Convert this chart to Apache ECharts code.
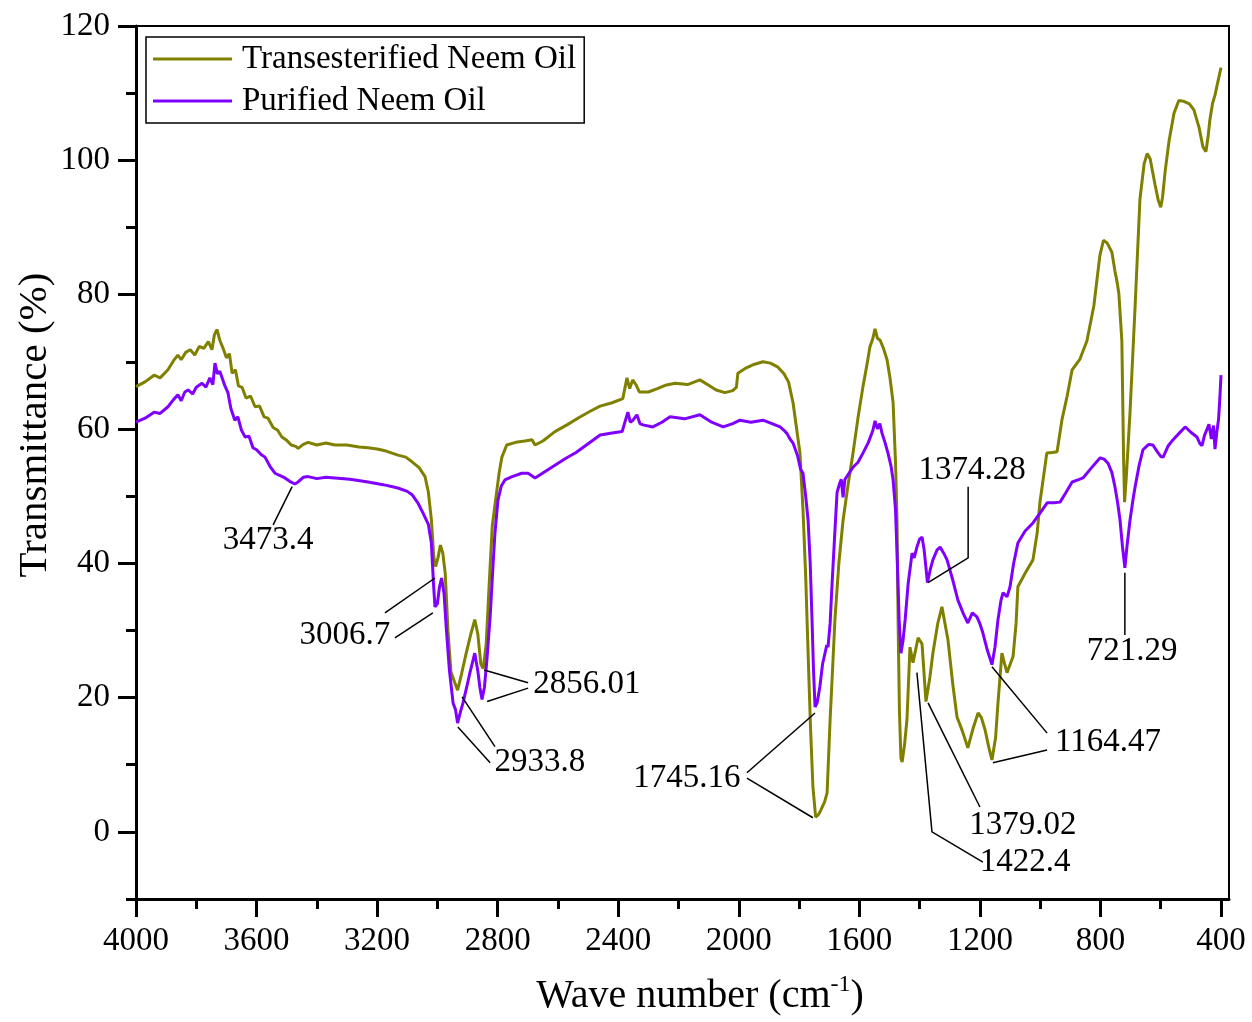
<!DOCTYPE html>
<html>
<head>
<meta charset="utf-8">
<script src="https://cdn.jsdelivr.net/npm/echarts@6/dist/echarts.min.js"></script>
<style>
  html, body { margin: 0; background: #fff; }
  #chart { width: 1252px; height: 1022px; }
</style>
</head>
<body>
<div id="chart"></div>
<script>
const FONT = '"Liberation Serif", "Times New Roman", serif';

const transName = 'Transesterified Neem Oil';
const purName = 'Purified Neem Oil';

// [wavenumber cm-1, transmittance %]
const transData = [
  [4000,66.3],[3970,67.0],[3940,68.0],[3920,67.6],[3894,68.8],[3875,70.2],[3861,71.0],[3850,70.3],[3835,71.4],[3820,71.8],
  [3805,71.0],[3790,72.3],[3775,72.0],[3760,73.0],[3748,71.8],[3740,74.0],[3731,74.8],[3722,73.2],[3711,72.0],[3700,70.6],
  [3690,71.2],[3681,68.3],[3670,68.8],[3660,66.4],[3648,66.2],[3635,64.6],[3620,64.9],[3605,63.3],[3590,63.4],[3575,61.8],
  [3562,61.6],[3545,60.2],[3530,59.8],[3516,58.8],[3500,58.3],[3485,57.6],[3470,57.4],[3462,57.1],[3445,57.7],[3429,58.0],
  [3400,57.6],[3370,57.9],[3340,57.6],[3300,57.6],[3260,57.3],[3230,57.2],[3200,57.0],[3170,56.7],[3131,56.1],[3105,55.8],
  [3084,55.1],[3060,54.2],[3041,52.9],[3030,50.6],[3020,46.5],[3012,41.0],[3006,39.5],[2998,40.8],[2990,42.7],[2982,41.5],
  [2974,38.5],[2965,30.0],[2955,23.8],[2943,22.3],[2933,21.1],[2920,23.5],[2905,26.5],[2890,29.3],[2876,31.6],[2866,29.5],
  [2856,25.0],[2848,24.3],[2838,28.0],[2828,37.0],[2818,45.5],[2808,49.0],[2795,53.5],[2786,55.8],[2770,57.6],[2740,58.0],
  [2710,58.2],[2686,58.4],[2676,57.6],[2650,58.2],[2610,59.6],[2570,60.6],[2530,61.7],[2490,62.7],[2460,63.4],[2420,63.9],
  [2385,64.5],[2371,67.6],[2362,66.0],[2352,67.3],[2340,66.5],[2330,65.5],[2300,65.5],[2270,66.0],[2244,66.5],[2211,66.8],
  [2170,66.6],[2129,67.3],[2100,66.5],[2075,65.8],[2046,65.4],[2020,65.7],[2008,66.2],[2003,68.3],[1975,69.1],[1950,69.6],
  [1920,70.0],[1895,69.8],[1870,69.2],[1850,68.2],[1835,67.0],[1820,63.9],[1808,60.0],[1797,56.4],[1787,48.0],[1778,38.0],
  [1770,26.6],[1762,15.5],[1754,6.7],[1745,2.2],[1735,2.6],[1727,3.3],[1715,4.5],[1707,5.8],[1697,16.7],[1688,25.0],
  [1681,31.6],[1668,40.0],[1654,46.4],[1638,51.5],[1621,56.4],[1605,61.5],[1588,66.3],[1575,69.5],[1565,72.2],[1555,73.5],
  [1548,74.9],[1540,73.5],[1531,73.2],[1520,72.0],[1508,70.3],[1498,67.5],[1488,63.9],[1480,55.0],[1475,46.4],[1471,30.0],
  [1467,18.0],[1462,11.0],[1458,10.4],[1450,13.0],[1442,16.7],[1432,27.5],[1422,25.2],[1405,28.9],[1392,28.0],[1379,19.4],
  [1366,23.0],[1356,26.6],[1340,31.0],[1326,33.5],[1306,28.6],[1290,22.0],[1276,17.1],[1258,15.0],[1240,12.5],[1222,15.5],
  [1206,17.7],[1195,17.0],[1183,15.2],[1170,12.5],[1160,10.7],[1148,14.0],[1140,19.2],[1127,26.6],[1118,25.0],[1110,23.7],
  [1090,26.1],[1080,31.0],[1074,36.5],[1050,38.5],[1024,40.5],[1010,44.5],[1001,49.0],[978,56.4],[960,56.5],[944,56.6],
  [928,61.3],[910,65.0],[894,68.8],[868,70.4],[845,73.1],[822,78.3],[802,85.8],[790,88.1],[778,87.7],[762,86.3],
  [752,83.5],[745,81.9],[739,80.2],[729,73.1],[723,55.0],[720,49.1],[714,53.0],[702,62.4],[685,78.3],[669,94.2],
  [655,99.5],[645,101.0],[635,100.2],[619,96.4],[608,94.0],[600,93.0],[594,94.5],[585,98.5],[572,103.0],[556,107.0],
  [540,108.9],[525,108.8],[505,108.4],[490,107.5],[473,104.9],[460,102.0],[450,101.3],[443,103.5],[437,106.0],[428,108.5],
  [420,109.7],[410,111.8],[400,113.8]
];

const purData = [
  [4000,61.0],[3970,61.6],[3940,62.5],[3920,62.3],[3894,63.3],[3875,64.4],[3861,65.1],[3850,64.2],[3838,65.5],[3827,65.8],
  [3812,65.2],[3800,66.2],[3781,66.8],[3768,66.2],[3755,67.6],[3745,66.6],[3738,69.8],[3730,68.2],[3722,68.6],[3715,67.7],
  [3705,66.4],[3695,65.4],[3685,63.0],[3672,61.3],[3662,61.8],[3650,59.8],[3638,58.8],[3625,58.9],[3612,57.2],[3600,56.9],
  [3585,56.2],[3572,55.8],[3555,54.4],[3539,53.4],[3520,53.0],[3506,52.7],[3490,52.2],[3473,51.8],[3462,52.1],[3445,52.8],
  [3429,52.9],[3400,52.6],[3370,52.8],[3340,52.7],[3290,52.5],[3230,52.1],[3180,51.7],[3131,51.2],[3100,50.7],[3084,50.2],
  [3065,49.0],[3048,47.5],[3030,45.8],[3020,43.0],[3013,37.0],[3008,33.5],[3000,34.0],[2993,36.5],[2986,37.8],[2978,35.5],
  [2970,30.0],[2960,24.0],[2948,19.2],[2940,18.2],[2933,16.2],[2924,17.8],[2915,19.2],[2903,21.5],[2892,23.7],[2876,26.6],
  [2866,24.0],[2859,21.5],[2852,19.7],[2844,21.5],[2835,26.0],[2825,32.0],[2815,40.0],[2809,44.5],[2799,49.4],[2788,51.5],
  [2776,52.4],[2752,52.9],[2720,53.4],[2699,53.4],[2676,52.7],[2645,53.6],[2610,54.6],[2575,55.6],[2540,56.5],[2500,57.8],
  [2460,59.1],[2420,59.4],[2387,59.6],[2368,62.5],[2360,61.0],[2351,61.3],[2338,62.1],[2328,60.8],[2318,60.6],[2285,60.3],
  [2255,61.0],[2228,61.8],[2180,61.5],[2129,62.1],[2090,61.0],[2052,60.3],[2020,60.8],[1996,61.3],[1960,61.0],[1920,61.3],
  [1890,60.8],[1863,60.3],[1850,59.8],[1840,59.3],[1830,58.5],[1820,57.9],[1805,56.0],[1795,54.0],[1787,53.4],[1778,50.0],
  [1770,46.4],[1763,40.0],[1757,31.6],[1752,24.0],[1747,18.6],[1740,19.2],[1731,21.6],[1722,25.0],[1714,26.6],[1708,27.8],
  [1704,27.5],[1697,31.0],[1691,36.5],[1682,44.0],[1674,50.5],[1666,51.8],[1660,52.5],[1654,49.8],[1648,52.5],[1640,53.0],
  [1621,54.3],[1605,55.0],[1588,56.4],[1570,58.0],[1555,59.8],[1548,61.2],[1540,60.0],[1532,60.8],[1525,59.4],[1515,58.0],
  [1505,56.4],[1495,54.5],[1488,52.4],[1480,48.0],[1475,41.5],[1468,31.6],[1462,26.6],[1455,28.5],[1448,31.6],[1438,37.0],
  [1425,41.5],[1418,40.8],[1409,42.4],[1400,43.6],[1392,43.9],[1385,42.0],[1374,37.1],[1365,39.0],[1356,40.5],[1342,42.0],
  [1332,42.4],[1320,41.5],[1309,40.5],[1290,37.5],[1273,34.5],[1255,32.5],[1240,31.1],[1225,32.6],[1210,32.0],[1200,31.0],
  [1190,29.6],[1175,27.0],[1160,24.9],[1150,27.5],[1140,31.6],[1130,34.5],[1123,35.6],[1110,35.0],[1100,36.5],[1088,40.0],
  [1074,43.0],[1050,44.8],[1024,46.0],[1000,47.5],[977,49.0],[955,49.0],[934,49.1],[915,50.5],[894,52.1],[875,52.4],
  [858,52.7],[830,54.2],[801,55.7],[788,55.5],[775,54.9],[762,53.5],[752,51.4],[743,49.0],[735,46.4],[727,42.5],
  [719,39.3],[712,42.5],[702,46.4],[692,49.5],[685,51.4],[672,54.5],[659,56.9],[640,57.7],[626,57.6],[610,56.5],
  [600,55.9],[592,55.8],[575,57.5],[559,58.4],[540,59.3],[519,60.3],[500,59.5],[480,58.8],[470,57.8],[463,57.5],
  [455,59.0],[440,60.7],[432,58.5],[425,60.5],[420,57.0],[414,59.5],[408,61.5],[404,64.5],[400,68.0]
];

const xMajor = [4000, 3600, 3200, 2800, 2400, 2000, 1600, 1200, 800, 400];
const xMinor = [3800, 3400, 3000, 2600, 2200, 1800, 1400, 1000, 600];
const yMajor = [0, 20, 40, 60, 80, 100, 120];
const yMinor = [-10, 10, 30, 50, 70, 90, 110];

// peak annotations: label text and its centre in data units
const peakLabels = [
  { text: '3473.4', at: [3562, 43.4] },
  { text: '3006.7', at: [3307, 29.3] },
  { text: '2856.01', at: [2504, 21.9] },
  { text: '2933.8', at: [2660, 10.4] },
  { text: '1745.16', at: [2172, 8.0] },
  { text: '1374.28', at: [1226, 53.9] },
  { text: '1164.47', at: [775, 13.4] },
  { text: '1379.02', at: [1057, 1.0] },
  { text: '1422.4', at: [1050, -4.5] },
  { text: '721.29', at: [695, 26.9] }
];

// leader lines from labels to peaks, in data units
const leaderLines = [
  [[3545, 45.7], [3482, 51.4]],
  [[3174, 32.6], [3008, 37.8]],
  [[3141, 28.9], [3015, 32.6]],
  [[2699, 22.2], [2845, 24.1]],
  [[2699, 21.4], [2835, 19.4]],
  [[2825, 10.3], [2932, 15.6]],
  [[2809, 12.7], [2918, 20.1]],
  [[1973, 8.8], [1747, 17.7]],
  [[1973, 8.0], [1754, 2.1]],
  [[1239, 51.4], [1239, 40.8], [1372, 37.1]],
  [[977, 14.7], [1160, 24.6]],
  [[977, 12.2], [1157, 10.3]],
  [[1200, 3.7], [1372, 19.2]],
  [[1190, -4.5], [1359, 0], [1409, 23.7]],
  [[719, 29.3], [719, 38.6]]
];

const X_MIN = 373.5, X_MAX = 4000, Y_MIN = -10, Y_MAX = 120;

const chart = echarts.init(document.getElementById('chart'));

const xBase = {
  type: 'value', min: X_MIN, max: X_MAX, inverse: true, position: 'bottom',
  splitLine: { show: false }
};
const yBase = {
  type: 'value', min: Y_MIN, max: Y_MAX, position: 'left',
  splitLine: { show: false }
};
const plain = v => String(Math.round(v));

const option = {
  animation: false,
  backgroundColor: '#fff',
  grid: {
    left: 136, right: 23, top: 26, bottom: 123,
    show: true, borderColor: '#000', borderWidth: 2,
    outerBoundsMode: 'none'
  },
  xAxis: [
    Object.assign({}, xBase, {
      axisLine: { show: true, onZero: false, lineStyle: { color: '#000', width: 3 } },
      axisTick: { show: true, customValues: xMajor, length: 18, lineStyle: { color: '#000', width: 3 } },
      axisLabel: { customValues: xMajor, formatter: plain, margin: 26, fontSize: 33, fontFamily: FONT, color: '#000' }
    }),
    Object.assign({}, xBase, {
      axisLine: { show: false, onZero: false },
      axisTick: { show: true, customValues: xMinor, length: 10, lineStyle: { color: '#000', width: 3 } },
      axisLabel: { show: false }
    })
  ],
  yAxis: [
    Object.assign({}, yBase, {
      axisLine: { show: true, onZero: false, lineStyle: { color: '#000', width: 3 } },
      axisTick: { show: true, customValues: yMajor, length: 18, lineStyle: { color: '#000', width: 3 } },
      axisLabel: { customValues: yMajor, formatter: plain, margin: 26, fontSize: 33, fontFamily: FONT, color: '#000' }
    }),
    Object.assign({}, yBase, {
      axisLine: { show: false, onZero: false },
      axisTick: { show: true, customValues: yMinor, length: 10, lineStyle: { color: '#000', width: 3 } },
      axisLabel: { show: false }
    })
  ],
  legend: {
    orient: 'vertical', left: 146, top: 37,
    data: [transName, purName],
    icon: 'rect', itemWidth: 79, itemHeight: 3, itemGap: 4,
    padding: [3, 8, 3, 7],
    borderColor: '#000', borderWidth: 1.5,
    textStyle: { fontFamily: FONT, fontSize: 33, color: '#000', lineHeight: 38, padding: [0, 0, 0, 5] }
  },
  graphic: [
    {
      type: 'text', x: 35, y: 425, rotation: Math.PI / 2,
      style: { text: 'Transmittance (%)', font: '41px ' + FONT, fill: '#000', align: 'center', verticalAlign: 'middle' }
    },
    {
      type: 'text', x: 700, y: 996,
      style: {
        text: '{a|Wave number (cm}{s|-1}{a|)}',
        align: 'center', verticalAlign: 'middle',
        rich: {
          a: { fontSize: 40, fontFamily: FONT, fill: '#000', lineHeight: 46 },
          s: { fontSize: 24, fontFamily: FONT, fill: '#000', verticalAlign: 'top', lineHeight: 46 }
        }
      }
    }
  ],
  series: [
    {
      name: transName, type: 'line', data: transData,
      symbol: 'none', showSymbol: false, silent: true,
      lineStyle: { color: '#808000', width: 3 }, itemStyle: { color: '#808000' }, z: 3
    },
    {
      name: purName, type: 'line', data: purData,
      symbol: 'none', showSymbol: false, silent: true,
      lineStyle: { color: '#8000ff', width: 3 }, itemStyle: { color: '#8000ff' }, z: 4
    },
    {
      type: 'lines', coordinateSystem: 'cartesian2d', polyline: true, silent: true,
      data: leaderLines.map(c => ({ coords: c })),
      lineStyle: { color: '#000', width: 1.5, opacity: 1 }, z: 5
    },
    {
      type: 'scatter', silent: true, symbolSize: 1,
      itemStyle: { color: '#fff', opacity: 0 },
      data: peakLabels.map(p => ({ value: p.at, name: p.text })),
      label: {
        show: true, position: 'inside', formatter: '{b}', opacity: 1,
        fontFamily: FONT, fontSize: 33, color: '#000', textBorderWidth: 0
      },
      z: 6
    }
  ]
};

chart.setOption(option);
</script>
</body>
</html>
